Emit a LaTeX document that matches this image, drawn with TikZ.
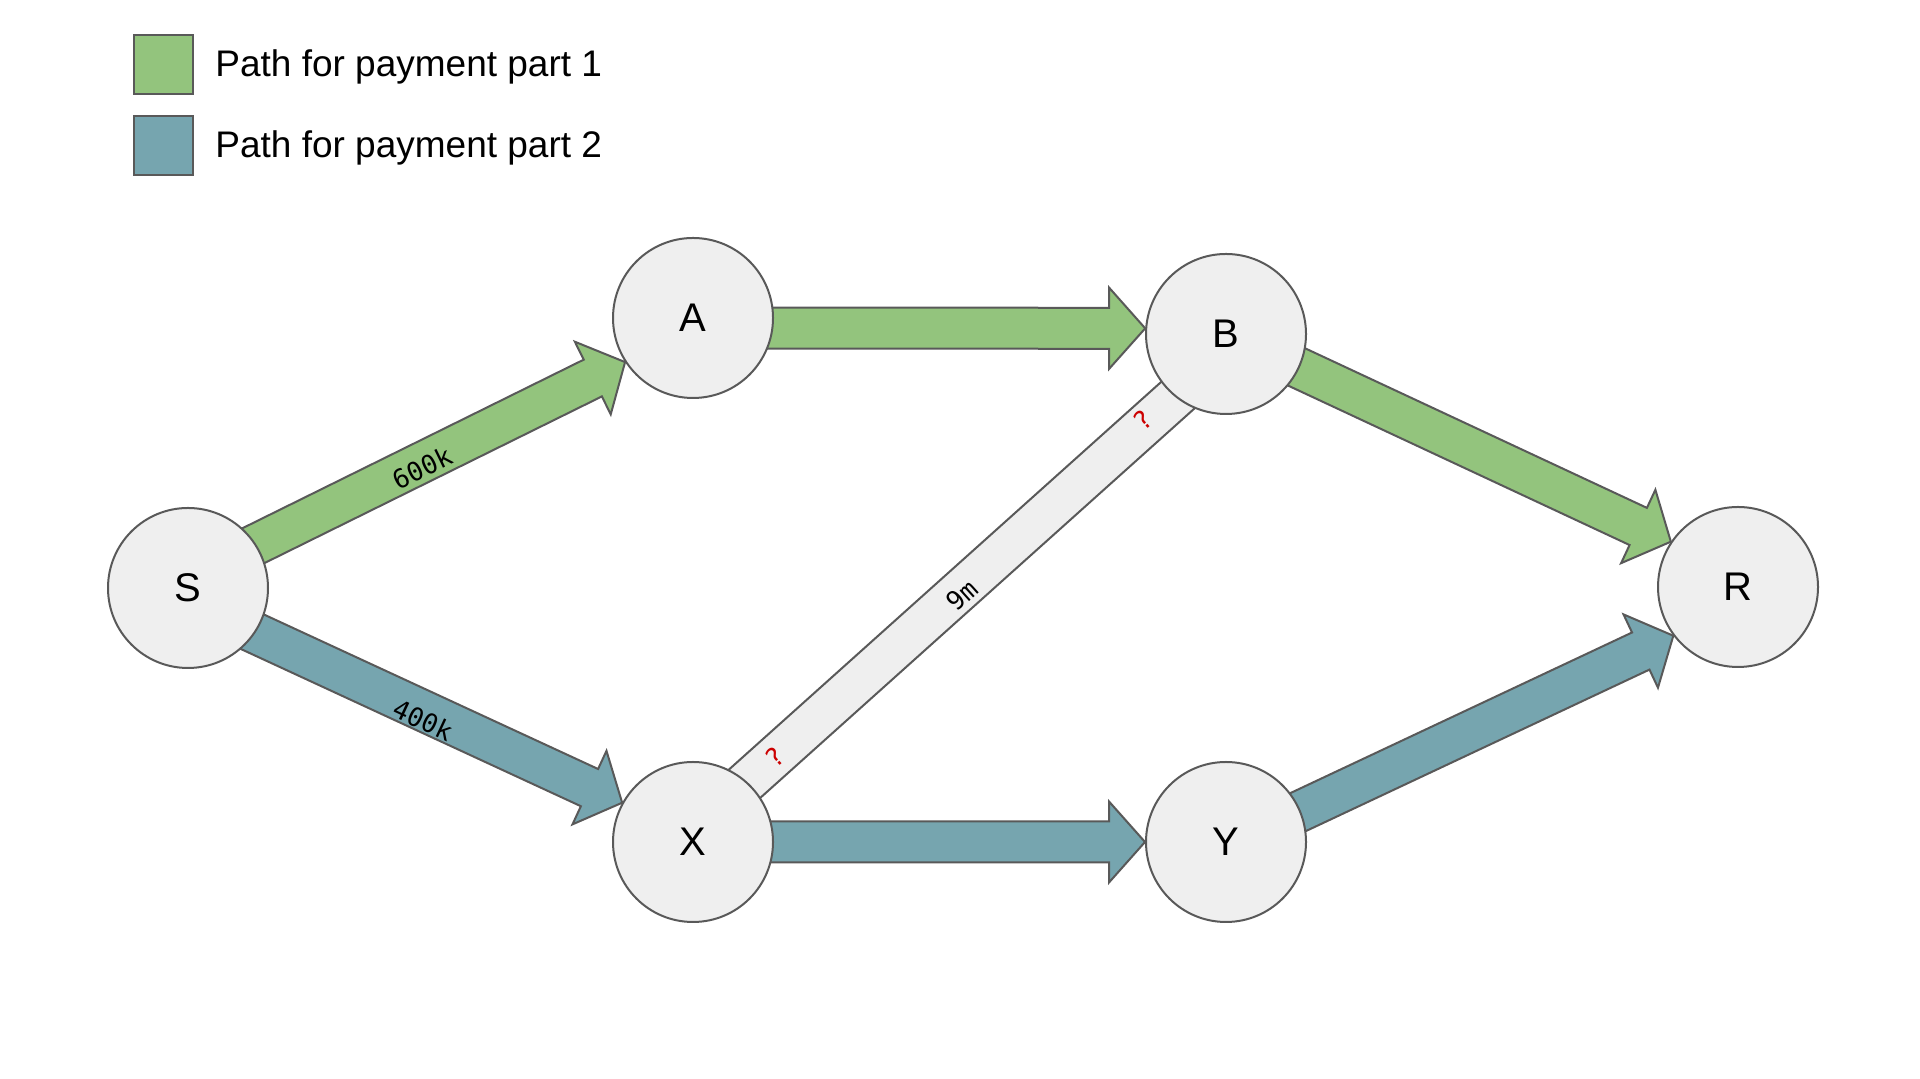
\documentclass[tikz,border=0pt]{standalone}
\usepackage{fontspec}
\setmainfont{Liberation Sans}
\newfontfamily\monofont{DejaVu Sans Mono}
\usetikzlibrary{calc,positioning,backgrounds}

\definecolor{pathone}{HTML}{93C47D}
\definecolor{pathtwo}{HTML}{76A5AF}
\definecolor{nodegray}{HTML}{EFEFEF}
\definecolor{edgegray}{HTML}{595959}
\definecolor{qred}{HTML}{CC0000}

\tikzset{
    payarrow/.style={draw=edgegray,line width=1pt,line join=miter},
    keybox/.style={draw=edgegray,line width=1pt,minimum size=29.5pt,inner sep=0pt}
}

\begin{document}
\begin{tikzpicture}[x=0.5pt,y=0.5pt]
\useasboundingbox (0,0) rectangle (1920,1079);

% legend
\begin{scope}[every node/.style={font=\fontsize{18.5}{22}\selectfont,inner sep=0pt}]
    \node[keybox,fill=pathone] (key1) at (163.5,1014.5) {};
    \node[keybox,fill=pathtwo,below=10pt of key1] (key2) {};
    \node[right=10.5pt of key1,yshift=-1.2pt] (txt1) {Path for payment part 1};
    \node[right=10.5pt of key2,yshift=-1.2pt] (txt2) {Path for payment part 2};
\end{scope}

% peers
\begin{scope}[every node/.style={circle,draw=edgegray,fill=nodegray,line width=1pt,
                                 minimum size=80pt,inner sep=0pt,font=\fontsize{20}{24}\selectfont}]
    \node (S) at (188 ,491) {S};
    \node (A) at (693 ,761) {A};
    \node (B) at (1226,745) {B};
    \node (X) at (693 ,237) {X};
    \node (Y) at (1226,237) {Y};
    \node (R) at (1738,492) {R};
\end{scope}

% channels, under the peers
\begin{scope}[on background layer]
    \coordinate (p) at ($(X)+(0,12)$);
    \coordinate (q) at ($(B)+(0,-18)$);
    \draw[payarrow,fill=nodegray] ($(p)!10.5pt!90:(q)$) -- ($(q)!10.5pt!-90:(p)$)
        -- ($(q)!10.5pt!90:(p)$) -- ($(p)!10.5pt!-90:(q)$) -- cycle;

    \foreach \src/\dy/\tip/\col in {S/10/A.213/pathone, A/-10/B.176/pathone,
                                    B/0/R.146/pathone, S/-14/X.151/pathtwo,
                                    X/0/Y.180/pathtwo, Y/-4/R.217/pathtwo}{
        \coordinate (t) at ($(\src)+(0,\dy)$);
        \coordinate (h) at ($(\tip)!18pt!(t)$);
        \draw[payarrow,fill=\col] ($(t)!10.25pt!90:(\tip)$) -- ($(h)!10.25pt!90:(\tip)$)
            -- ($(h)!20.25pt!90:(\tip)$) -- (\tip) -- ($(h)!20.25pt!-90:(\tip)$)
            -- ($(h)!10.25pt!-90:(\tip)$) -- ($(t)!10.25pt!-90:(\tip)$) -- cycle;
    }
\end{scope}

% amounts
\begin{scope}[every node/.style={font=\monofont\fontsize{13}{15}\selectfont,inner sep=1pt}]
    \node[rotate=26]  (amtSA) at (422,611) {600k};
    \node[rotate=-25] (amtSX) at (423,359) {400k};
    \node[rotate=42]  (amtXB) at (962,484) {9m};
    \node[rotate=42,text=qred] (unkX) at (775,322) {?};
    \node[rotate=42,text=qred] (unkB) at (1143,659) {?};
\end{scope}
\end{tikzpicture}
\end{document}
